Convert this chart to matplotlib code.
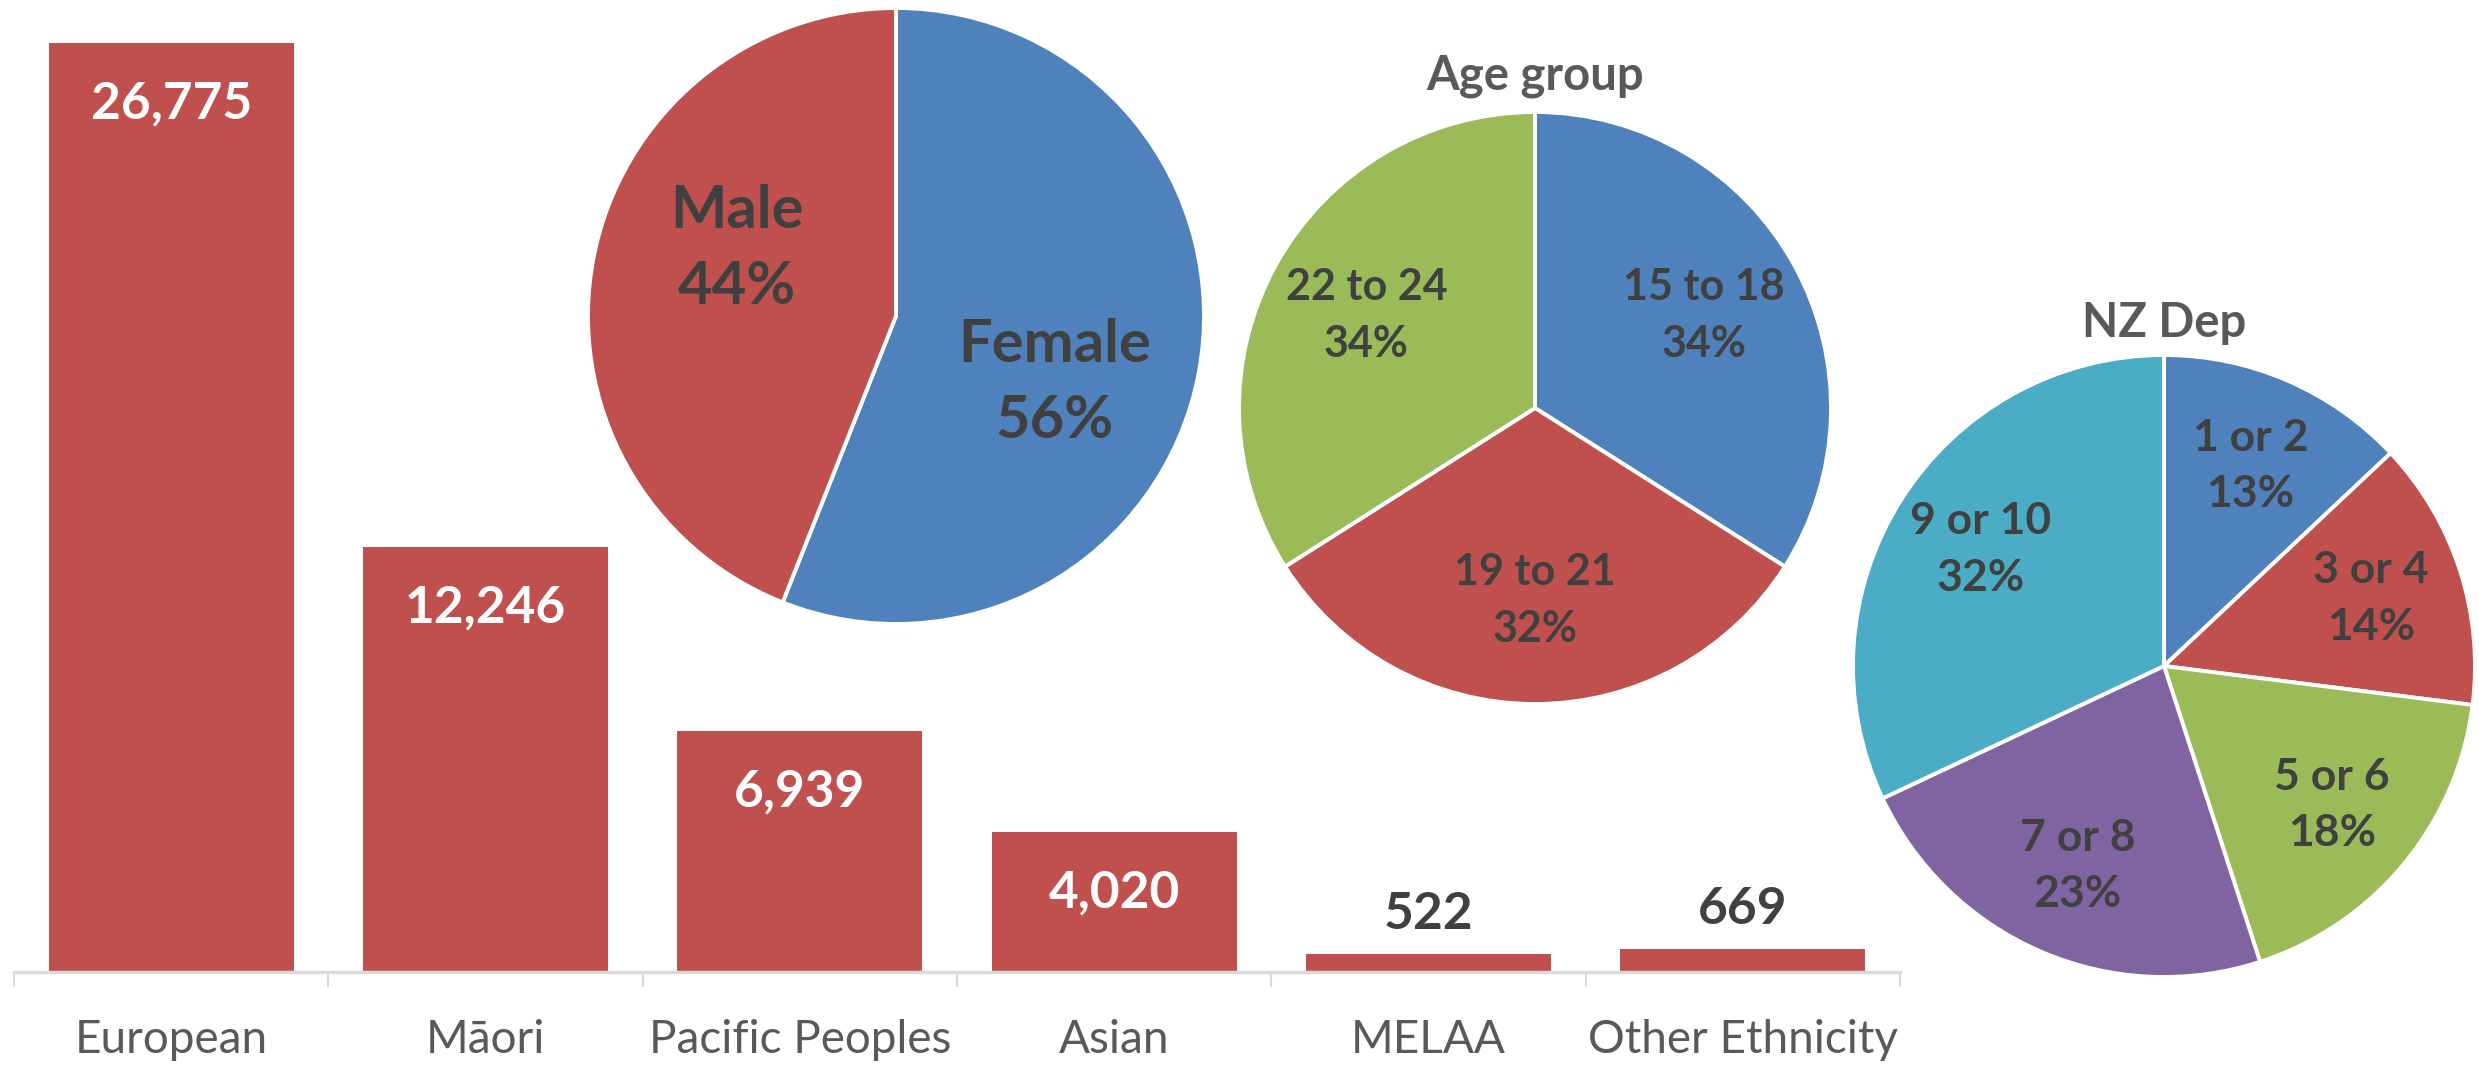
import matplotlib
matplotlib.use('Agg')
import matplotlib.pyplot as plt
import numpy as np

plt.rcParams['font.family'] = ['Lato', 'DejaVu Sans']

W, H = 2479, 1065

# ethnicity counts (bar chart)
ethnicity = ['European', 'Māori', 'Pacific Peoples', 'Asian', 'MELAA', 'Other Ethnicity']
counts = [26775, 12246, 6939, 4020, 522, 669]

# gender split
gender = ['Female', 'Male']
gender_pct = [56, 44]

# age groups
age_groups = ['15 to 18', '19 to 21', '22 to 24']
age_pct = [34, 32, 34]

# NZ deprivation quintiles
nzdep = ['1 or 2', '3 or 4', '5 or 6', '7 or 8', '9 or 10']
nzdep_pct = [13, 14, 18, 23, 32]

BLUE = '#4F81BD'
RED = '#C0504D'
GREEN = '#9BBB59'
PURPLE = '#8064A2'
TEAL = '#4BACC6'
DARK = '#404040'
GREY = '#595959'


def px_box(left, top, width, height):
    # figure-fraction box from pixel coords (origin top-left)
    return [left / W, (H - top - height) / H, width / W, height / H]


fig = plt.figure(figsize=(W / 100, H / 100), dpi=100)

# --- bar chart ---
ax = fig.add_axes(px_box(14, 0, 1886, 972))
x = np.arange(len(ethnicity))
bars = ax.bar(x, counts, width=0.78, color=RED, zorder=2)
ax.set_xlim(-0.5, len(ethnicity) - 0.5)
ax.set_ylim(0, 28000)
for s in ['top', 'right', 'left']:
    ax.spines[s].set_visible(False)
ax.spines['bottom'].set_color('#D9D9D9')
ax.spines['bottom'].set_linewidth(2.5)
ax.spines['bottom'].set_zorder(3)
ax.set_yticks([])
ax.set_xticks(x, ethnicity)
ax.set_xticks(np.arange(-0.5, len(ethnicity)), minor=True)
ax.tick_params(axis='x', which='major', length=0, pad=34, labelsize=33, labelcolor=GREY)
ax.tick_params(axis='x', which='minor', length=11, width=1.5, color='#D9D9D9')

for b, v in zip(bars, counts):
    cx = b.get_x() + b.get_width() / 2
    if v > 2000:
        ax.annotate(f'{v:,}', (cx, v), xytext=(0, -44), textcoords='offset points',
                    ha='center', va='center', color='white', fontsize=37, fontweight='bold')
    else:
        ax.annotate(f'{v:,}', (cx, v), xytext=(0, 28), textcoords='offset points',
                    ha='center', va='center', color=DARK, fontsize=37, fontweight='bold')


def draw_pie(cx, cy, r, values, labels, colors, dist, size, rot=0, title=None, pad=0):
    pax = fig.add_axes(px_box(cx - r, cy - r, 2 * r, 2 * r))
    wedges, _ = pax.pie(values, colors=colors, startangle=90, counterclock=False,
                        wedgeprops=dict(edgecolor='white', linewidth=2.8))
    pax.set_xlim(-1, 1)
    pax.set_ylim(-1, 1)
    for w, lab, v in zip(wedges, labels, values):
        ang = np.deg2rad((w.theta1 + w.theta2) / 2 + rot)
        pax.text(dist * np.cos(ang), dist * np.sin(ang), f'{lab}\n{v}%',
                 ha='center', va='center', color=DARK, fontsize=size,
                 fontweight='bold', linespacing=1.5)
    if title:
        pax.set_title(title, fontsize=34, fontweight='bold', color=GREY, pad=pad)
    return pax


draw_pie(896, 316, 308, gender_pct, gender, [BLUE, RED], 0.56, 43, rot=-12)
draw_pie(1535, 408, 296, age_pct, age_groups, [BLUE, RED, GREEN], 0.65, 31,
         title='Age group', pad=16)
draw_pie(2164, 666, 311, nzdep_pct, nzdep, [BLUE, RED, GREEN, PURPLE, TEAL], 0.70, 32,
         title='NZ Dep', pad=13)

fig.savefig('out.png', dpi=100)
